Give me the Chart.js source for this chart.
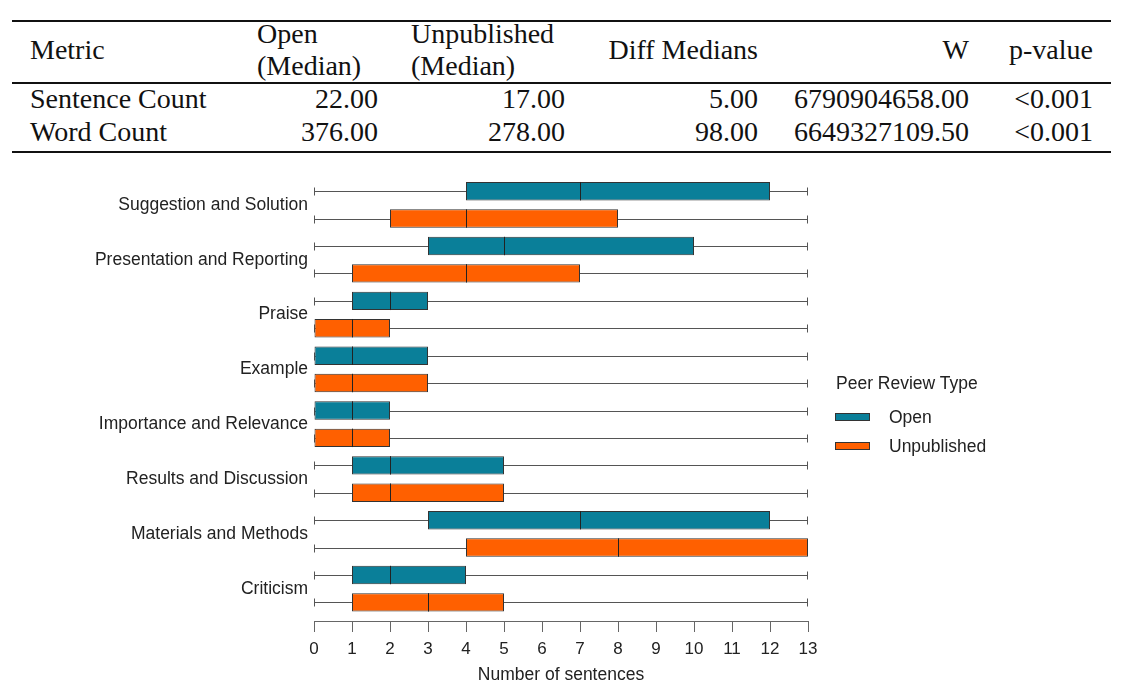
<!DOCTYPE html>
<html>
<head>
<meta charset="utf-8">
<script src="https://cdn.jsdelivr.net/npm/chart.js@4.4.0/dist/chart.umd.min.js"></script>
<style>
  html, body { margin: 0; padding: 0; background: #fff; }
  #page { position: relative; width: 1143px; height: 695px; overflow: hidden; }
  .rule { position: absolute; left: 12px; width: 1099px; height: 2px; background: #111; }
  .cell { position: absolute; font-family: 'Liberation Serif', 'Times New Roman', serif; font-size: 28px;
          color: #111; white-space: nowrap; height: 34px; line-height: 34px; }
  #chartBox { position: absolute; left: 0; top: 160px; width: 1143px; height: 535px; }
  .lg { position: absolute; font-family: 'Liberation Sans', Arial, sans-serif; font-size: 17.5px; color: #222;
        height: 20px; line-height: 20px; white-space: nowrap; }
  .sw { position: absolute; width: 35px; height: 8px; box-sizing: border-box; border: 1px solid #333; }
</style>
</head>
<body>
<div id="page">
  <div class="rule" style="top:20px"></div>
  <div class="rule" style="top:82px"></div>
  <div class="rule" style="top:151px"></div>
  <div id="chartBox"><canvas id="chart" width="1143" height="535"></canvas></div>
  <div id="legend"></div>
</div>
<script>
// ---- table data ----
const tableHeader = ['Metric', ['Open', '(Median)'], ['Unpublished', '(Median)'], 'Diff Medians', 'W', 'p-value'];
const tableMetrics = ['Sentence Count', 'Word Count'];
const openMedians = ['22.00', '376.00'];
const unpublishedMedians = ['17.00', '278.00'];
const diffMedians = ['5.00', '98.00'];
const wValues = ['6790904658.00', '6649327109.50'];
const pValues = ['<0.001', '<0.001'];

// ---- chart data ----
const categories = ['Suggestion and Solution', 'Presentation and Reporting', 'Praise', 'Example',
  'Importance and Relevance', 'Results and Discussion', 'Materials and Methods', 'Criticism'];
// [min, q1, median, q3, max]
const openStats = [
  [0, 4, 7, 12, 13],
  [0, 3, 5, 10, 13],
  [0, 1, 2, 3, 13],
  [0, 0, 1, 3, 13],
  [0, 0, 1, 2, 13],
  [0, 1, 2, 5, 13],
  [0, 3, 7, 12, 13],
  [0, 1, 2, 4, 13]
];
const unpublishedStats = [
  [0, 2, 4, 8, 13],
  [0, 1, 4, 7, 13],
  [0, 0, 1, 2, 13],
  [0, 0, 1, 3, 13],
  [0, 0, 1, 2, 13],
  [0, 1, 2, 5, 13],
  [0, 4, 8, 13, 13],
  [0, 1, 3, 5, 13]
];
const seriesNames = ['Open', 'Unpublished'];
const seriesColors = ['#0a7f99', '#ff6000'];
const xMin = 0, xMax = 13;

// ---- table ----
const page = document.getElementById('page');
// column layout: left edge, right edge, alignment of headers
const cols = [
  { left: 30, head: 'left' },
  { left: 257, right: 378, head: 'left' },
  { left: 411, right: 565, head: 'left' },
  { right: 758, head: 'right' },
  { right: 969, head: 'right' },
  { right: 1093, head: 'right' }
];
function cell(text, col, centerY, align) {
  const d = document.createElement('div');
  d.className = 'cell';
  d.textContent = text;
  d.style.top = (centerY - 17) + 'px';
  if (align === 'left') d.style.left = col.left + 'px';
  else d.style.right = (1143 - col.right) + 'px';
  page.appendChild(d);
}
tableHeader.forEach((h, c) => {
  if (Array.isArray(h)) {
    cell(h[0], cols[c], 34, cols[c].head);
    cell(h[1], cols[c], 66, cols[c].head);
  } else {
    cell(h, cols[c], 50, cols[c].head);
  }
});
const rowCenters = [99, 132];
tableMetrics.forEach((m, r) => {
  const vals = [m, openMedians[r], unpublishedMedians[r], diffMedians[r], wValues[r], pValues[r]];
  vals.forEach((v, c) => cell(v, cols[c], rowCenters[r], c === 0 ? 'left' : 'right'));
});

// ---- legend ----
const legend = document.getElementById('legend');
legend.innerHTML = '<div class="lg" style="left:836px;top:373px">Peer Review Type</div>';
seriesNames.forEach((n, i) => {
  const cy = 417 + i * 29;
  legend.innerHTML += '<div class="sw" style="left:835px;top:' + (cy - 4) + 'px;background:' + seriesColors[i] + '"></div>' +
    '<div class="lg" style="left:889px;top:' + (cy - 10) + 'px">' + n + '</div>';
});

// ---- chart ----
const boxPlot = {
  id: 'boxPlot',
  beforeDatasetsDraw(chart) {
    const ctx = chart.ctx, xs = chart.scales.x;
    ctx.save();
    ctx.strokeStyle = '#555';
    ctx.lineWidth = 1;
    chart.data.datasets.forEach((ds, d) => {
      chart.getDatasetMeta(d).data.forEach((bar, i) => {
        const s = ds.stats[i];
        const y = Math.round(bar.y) + 0.5;
        const x0 = Math.round(xs.getPixelForValue(s[0])) + 0.5;
        const x1 = Math.round(xs.getPixelForValue(s[4])) - 0.5;
        ctx.beginPath();
        ctx.moveTo(x0, y); ctx.lineTo(x1, y);
        ctx.moveTo(x0, y - 4); ctx.lineTo(x0, y + 4);
        ctx.moveTo(x1, y - 4); ctx.lineTo(x1, y + 4);
        ctx.stroke();
      });
    });
    ctx.restore();
  },
  afterDatasetsDraw(chart) {
    const ctx = chart.ctx, xs = chart.scales.x;
    ctx.save();
    ctx.strokeStyle = '#222';
    ctx.lineWidth = 1;
    chart.data.datasets.forEach((ds, d) => {
      chart.getDatasetMeta(d).data.forEach((bar, i) => {
        const xm = Math.round(xs.getPixelForValue(ds.stats[i][2])) + 0.5;
        ctx.beginPath();
        ctx.moveTo(xm, bar.y - bar.height / 2);
        ctx.lineTo(xm, bar.y + bar.height / 2);
        ctx.stroke();
      });
    });
    ctx.restore();
  }
};

Chart.defaults.font.family = "'Liberation Sans', Arial, sans-serif";
Chart.defaults.color = '#222';

const allStats = [openStats, unpublishedStats];
new Chart(document.getElementById('chart'), {
  type: 'bar',
  data: {
    datasets: seriesNames.map((name, k) => ({
      label: name,
      stats: allStats[k],
      data: allStats[k].map((s, i) => ({ y: i, x: [s[1], s[3]] })),
      backgroundColor: seriesColors[k],
      borderColor: '#333',
      borderWidth: 1,
      borderSkipped: false,
      categoryPercentage: 0.997,
      barPercentage: 0.673
    }))
  },
  options: {
    indexAxis: 'y',
    responsive: false,
    animation: false,
    events: [],
    layout: { padding: { top: 10, right: 335, bottom: 0, left: 0 } },
    plugins: { legend: { display: false }, tooltip: { enabled: false } },
    scales: {
      x: {
        type: 'linear', min: xMin, max: xMax,
        ticks: { stepSize: 1, padding: 7, font: { size: 17 }, color: '#222' },
        grid: { drawOnChartArea: false, tickLength: 11, color: '#666' },
        border: { color: '#666' },
        title: { display: true, text: 'Number of sentences', font: { size: 17.5 }, color: '#222', padding: { top: 0, bottom: 9 } },
        afterFit(s) { s.height = 74; }
      },
      y: {
        type: 'linear', reverse: true, offset: false, min: -0.517, max: 7.589,
        afterBuildTicks(s) { s.ticks = categories.map((c, i) => ({ value: i })); },
        ticks: { callback: (v) => categories[v], padding: 6, font: { size: 17.5 }, color: '#222', autoSkip: false },
        grid: { display: false, offset: false, tickLength: 0 },
        border: { display: false },
        afterFit(s) { s.width = 314; }
      }
    }
  },
  plugins: [boxPlot]
});
</script>
</body>
</html>
